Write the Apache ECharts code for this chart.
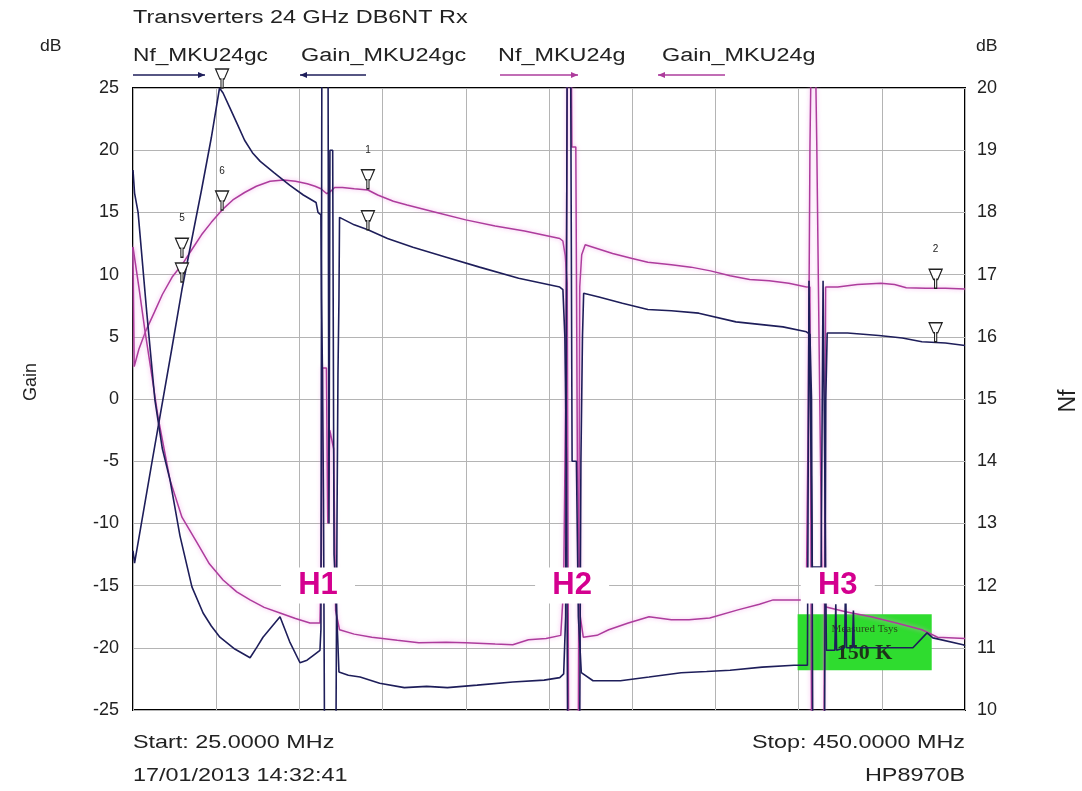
<!DOCTYPE html>
<html>
<head>
<meta charset="utf-8">
<script src="https://cdn.jsdelivr.net/npm/echarts@6/dist/echarts.min.js"></script>
<style>
html,body{margin:0;padding:0;background:#fff;}
#c{width:1082px;height:791px;}
</style>
</head>
<body>
<div id="c"></div>
<script>
// ---- data (frequency MHz, dB) ----
const gainMKU24gc = [
[25,-12.2],[25.8,-13.2],[35,-4.8],[45,4.2],[50,8.8],[55,12.8],[60,16.8],[65,21.0],[69.2,25.0],[71,24.6],[74.5,23.4],[78,22.2],[82,20.8],[86,19.8],[90,19.1],[97,18.2],[105,17.2],[112,16.4],[118.5,15.8],[119.5,15.0],[121,14.8],[121.3,8],[121.8,2],[122.3,-8],[122.8,-26],[128.7,-26],[129.2,-10],[129.7,2],[130.2,8],[130.5,14.6],[131.5,14.6],[138,14.0],[145,13.6],[155,12.9],[168,12.2],[185,11.4],[202,10.6],[222,9.7],[243,9.0],[244.6,8.8],[245.6,5],[246.4,-5],[247,-26],[253.2,-26],[253.8,-5],[254.6,5],[255.2,8.5],[263,8.2],[275,7.7],[288,7.2],[300,7.1],[314,6.9],[333,6.2],[345,6.0],[357,5.8],[369,5.4],[370.8,5.2],[371.6,0],[372.2,-26],[378.3,-26],[378.9,0],[379.6,5.3],[390,5.3],[406,5.1],[418,4.9],[428,4.6],[440,4.5],[450,4.3]
];
const gainMKU24g = [
[25,12.2],[25.6,2.6],[28,4.0],[31.6,5.5],[36,7.0],[40,8.4],[45,9.8],[50.5,10.9],[55,12.0],[60,13.2],[65,14.2],[70.5,15.2],[76,16.0],[82,16.6],[88,17.1],[95,17.5],[102,17.6],[108,17.5],[114,17.3],[118,17.1],[121,16.9],[124,16.5],[126,16.7],[128,17.0],[132,17.0],[138,16.9],[145,16.8],[150,16.4],[158,15.9],[165,15.6],[180,15.0],[195,14.4],[210,13.9],[225,13.5],[237,13.1],[243,12.9],[244.6,12.7],[245.8,11.5],[246.8,9.3],[247.5,-26],[252.5,-26],[253.2,9.0],[254.2,11.6],[256,12.4],[262,12.1],[270,11.7],[280,11.3],[288,11.0],[300,10.8],[310,10.6],[320,10.3],[330,9.9],[340,9.6],[350,9.5],[360,9.3],[369,9.0],[370.8,9.0],[371.6,-26],[378,-26],[378.8,9.0],[385,9.0],[395,9.2],[407,9.3],[414,9.2],[420,8.95],[430,8.9],[440,8.9],[450,8.85]
];
const nfMKU24gc = [
[25,18.68],[25.8,18.31],[27.6,18.0],[32,16.4],[36.2,14.98],[40,14.2],[43.9,13.7],[49,12.8],[55.1,11.98],[60.8,11.56],[65,11.35],[69.4,11.17],[77,10.98],[84.8,10.84],[88.3,11.01],[91.4,11.17],[100.1,11.5],[105,11.1],[110.3,10.76],[113.9,10.8],[118,10.9],[120.5,10.96],[121,11.3],[121.5,21],[124.6,21],[125.1,13],[125.6,19.0],[127,19.0],[127.7,12.5],[129.5,11.2],[130.2,10.61],[135,10.56],[141,10.53],[151,10.43],[163.6,10.36],[175,10.38],[185.6,10.36],[200.8,10.4],[219,10.45],[235,10.48],[243,10.52],[245,10.58],[246,11.5],[246.8,21],[248.5,21],[249.3,14],[251.5,14],[252.5,11.5],[254,10.6],[260,10.47],[274,10.47],[288.6,10.53],[305,10.6],[318,10.62],[330,10.64],[346.4,10.69],[362.7,10.72],[369.5,10.72],[370.3,16.9],[371.3,16.9],[372,12.3],[376.5,12.3],[377.5,16.9],[378.5,16.9],[379.2,10.96],[383.5,10.96],[384,11.7],[384.4,10.96],[388.5,11.0],[389,12.1],[389.5,11.0],[392.5,11.0],[393,11.6],[393.4,11.0],[403,11.0],[423.4,11.0],[430.6,11.24],[433.6,11.16],[449,11.05],[450,11.03]
];
const nfMKU24g = [
[25,17.44],[28,16.8],[31.1,16.1],[34.5,15.4],[37.8,14.71],[43.9,13.7],[50,13.1],[57.7,12.69],[64,12.35],[71,12.09],[78,11.9],[84.8,11.77],[92,11.65],[100.1,11.56],[108,11.47],[115.4,11.4],[120.5,11.4],[121.2,12.5],[121.8,15.5],[123.8,15.5],[124.5,13.0],[125.5,14.5],[127.5,14.2],[128.5,11.6],[130.5,11.29],[138,11.22],[147,11.17],[160,11.12],[171,11.08],[185,11.09],[195,11.08],[210,11.06],[219,11.05],[227,11.13],[236,11.15],[243.5,11.2],[245,12.0],[246,15.0],[247,21],[248.8,21],[249.2,19.05],[251.2,19.05],[252,14.0],[253.5,11.5],[255,11.17],[262,11.2],[268,11.29],[278,11.4],[288.6,11.5],[300,11.45],[309,11.45],[319.6,11.48],[334,11.61],[345,11.7],[352,11.77],[367,11.77],[369,12.0],[370,15.0],[370.8,19.05],[371.6,21],[373.4,21],[374.3,19.05],[375.8,15.0],[377,12.0],[378.5,11.66],[389,11.58],[402,11.5],[415,11.4],[428,11.29],[436,11.17],[450,11.15]
];
// markers
const markerFreqs = [50, 70.5, 145, 435];
const markerLabels = ['5', '6', '1', '2'];
const markerGainG = [11.4, 15.2, 16.9, 8.9];
const markerGainGC = [9.4, 25.0, 13.6, 4.6];
// harmonic labels
const harmonicNames = ['H1', 'H2', 'H3'];
const harmonicFreqs = [119.5, 249.3, 385];
const harmonicLevel = -15;
// green annotation box (MHz, dB)
const boxFreqs = [364.5, 433];
const boxGain = [-17.3, -21.8];

const NAVY = '#1e1e5a';
const MAG = '#ad3c9c';
const FONT = 'Liberation Sans, Arial, sans-serif';

const chart = echarts.init(document.getElementById('c'), null, {renderer: 'canvas'});

const markerPath = 'path://M0,0 L12,0 L8,9 L7,9 L7,17 L5,17 L5,9 L4,9 Z';

function markerData(vals, withLabel) {
  return markerFreqs.map((f, i) => ({
    value: [f, vals[i]],
    label: withLabel ? {show: true, formatter: markerLabels[i]} : {show: false}
  }));
}

function arrow(x1, x2, y, color, dir) {
  const tip = dir > 0 ? x2 : x1;
  return [
    {type: 'line', shape: {x1: x1, y1: y, x2: x2, y2: y}, style: {stroke: color, lineWidth: 1.5}},
    {type: 'polygon', shape: {points: [[tip, y], [tip - dir * 7, y - 3], [tip - dir * 7, y + 3]]}, style: {fill: color}}
  ];
}

function txt(text, x, y, size, sx, align) {
  return {type: 'text', x: x, y: y, scaleX: sx, originX: 0, originY: 0,
    style: {text: text, font: size + 'px ' + FONT, fill: '#222', align: align || 'left', verticalAlign: 'middle'}};
}

const option = {
  backgroundColor: '#fff',
  animation: false,
  grid: {left: 133, right: 117, top: 88, bottom: 81, show: true, borderColor: '#000', borderWidth: 2, backgroundColor: 'transparent'},
  xAxis: {
    type: 'value', min: 25, max: 450, interval: 42.5,
    axisLine: {show: false}, axisTick: {show: false}, axisLabel: {show: false},
    splitLine: {show: true, lineStyle: {color: '#b4b4b4', width: 1}}
  },
  yAxis: [
    {
      type: 'value', min: -25, max: 25, interval: 5,
      axisLine: {show: false}, axisTick: {show: false},
      axisLabel: {color: '#222', fontSize: 18, fontFamily: FONT, margin: 14},
      splitLine: {show: true, lineStyle: {color: '#b4b4b4', width: 1}}
    },
    {
      type: 'value', min: 10, max: 20, interval: 1, position: 'right',
      axisLine: {show: false}, axisTick: {show: false},
      axisLabel: {color: '#222', fontSize: 18, fontFamily: FONT, margin: 12},
      splitLine: {show: false}
    }
  ],
  series: [
    {
      name: 'Gain_MKU24g', type: 'line', yAxisIndex: 0, data: gainMKU24g, showSymbol: false, symbol: 'none',
      lineStyle: {color: MAG, width: 1.5, shadowColor: 'rgba(240,150,230,0.8)', shadowBlur: 4}, z: 3,
      markArea: {
        silent: true,
        itemStyle: {color: '#2fdc2f'},
        label: {
          show: true, position: 'inside',
          formatter: '{a|Measured Tsys}\n{b|150 K}',
          rich: {
            a: {fontSize: 11, fontFamily: 'Liberation Serif, serif', color: '#2b4a1a', lineHeight: 22},
            b: {fontSize: 22, fontWeight: 'bold', fontFamily: 'Liberation Serif, serif', color: '#1d3318', lineHeight: 26}
          }
        },
        data: [[{coord: [boxFreqs[0], boxGain[0]]}, {coord: [boxFreqs[1], boxGain[1]]}]]
      }
    },
    {
      name: 'Nf_MKU24g', type: 'line', yAxisIndex: 1, data: nfMKU24g, showSymbol: false, symbol: 'none',
      lineStyle: {color: MAG, width: 1.5, shadowColor: 'rgba(240,150,230,0.8)', shadowBlur: 4}, z: 3
    },
    {
      name: 'Gain_MKU24gc', type: 'line', yAxisIndex: 0, data: gainMKU24gc, showSymbol: false, symbol: 'none',
      lineStyle: {color: NAVY, width: 1.6}, z: 4
    },
    {
      name: 'Nf_MKU24gc', type: 'line', yAxisIndex: 1, data: nfMKU24gc, showSymbol: false, symbol: 'none',
      lineStyle: {color: NAVY, width: 1.6}, z: 4
    },
    {
      name: 'markersG', type: 'scatter', yAxisIndex: 0, data: markerData(markerGainG, true),
      symbol: markerPath, symbolSize: [13, 19], symbolOffset: [0, '-50%'], clip: false,
      itemStyle: {color: '#fff', borderColor: '#222', borderWidth: 1.3, opacity: 1},
      label: {position: 'top', distance: 14, fontSize: 10, color: '#222', fontFamily: FONT}, z: 6
    },
    {
      name: 'markersGC', type: 'scatter', yAxisIndex: 0, data: markerData(markerGainGC, false),
      symbol: markerPath, symbolSize: [13, 19], symbolOffset: [0, '-50%'], clip: false,
      itemStyle: {color: '#fff', borderColor: '#222', borderWidth: 1.3, opacity: 1}, z: 6
    },
    {
      name: 'harmonics', type: 'scatter', yAxisIndex: 0,
      data: harmonicNames.map((n, i) => ({name: n, value: [harmonicFreqs[i], harmonicLevel]})),
      symbol: 'rect', symbolSize: [74, 36],
      itemStyle: {color: '#ffffff', opacity: 1},
      label: {
        show: true, position: 'inside', formatter: '{b}',
        fontSize: 31, fontWeight: 'bold', fontFamily: FONT, color: '#d4008f'
      }, z: 8
    }
  ],
  graphic: [
    txt('Transverters 24 GHz DB6NT Rx', 133, 18, 18, 1.3),
    txt('dB', 40, 47, 16, 1.1),
    txt('dB', 976, 47, 16, 1.1),
    txt('Nf_MKU24gc', 133, 56, 18, 1.26),
    txt('Gain_MKU24gc', 301, 56, 18, 1.3),
    txt('Nf_MKU24g', 498, 56, 18, 1.3),
    txt('Gain_MKU24g', 662, 56, 18, 1.3),
    ...arrow(133, 205, 75, NAVY, 1),
    ...arrow(300, 366, 75, NAVY, -1),
    ...arrow(500, 578, 75, MAG, 1),
    ...arrow(658, 725, 75, MAG, -1),
    {type: 'text', x: 31, y: 382, rotation: Math.PI / 2, style: {text: 'Gain', font: '18px ' + FONT, fill: '#222', align: 'center', verticalAlign: 'middle'}},
    {type: 'text', x: 1069, y: 401, rotation: Math.PI / 2, style: {text: 'Nf', font: '23px ' + FONT, fill: '#222', align: 'center', verticalAlign: 'middle'}},
    txt('Start: 25.0000 MHz', 133, 743, 19, 1.23),
    txt('Stop: 450.0000 MHz', 965, 743, 19, 1.23, 'right'),
    txt('17/01/2013 14:32:41', 133, 776, 19, 1.23),
    txt('HP8970B', 965, 776, 19, 1.23, 'right')
  ]
};
chart.setOption(option);
</script>
</body>
</html>
